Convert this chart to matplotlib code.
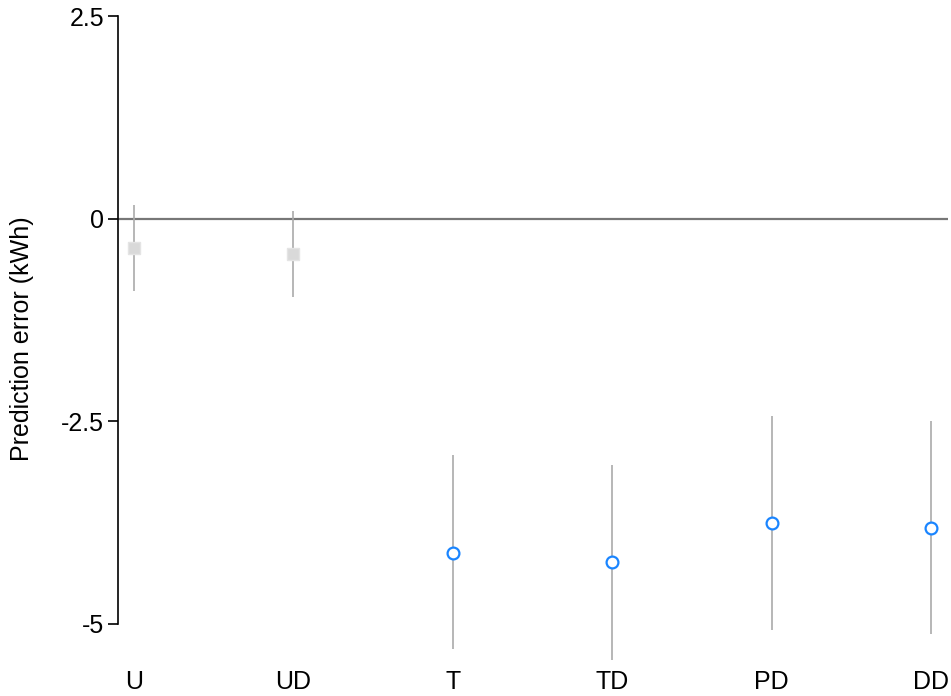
import matplotlib
matplotlib.use("Agg")
import matplotlib.pyplot as plt

categories = ["U", "UD", "T", "TD", "PD", "DD"]
means = [-0.36, -0.44, -4.12, -4.24, -3.75, -3.81]
lower = [-0.89, -0.97, -5.31, -5.44, -5.07, -5.12]
upper = [0.17, 0.09, -2.91, -3.04, -2.43, -2.49]
groups = ["base", "base", "model", "model", "model", "model"]
yticks = [2.5, 0, -2.5, -5]
ytick_labels = ["2.5", "0", "-2.5", "-5"]

plt.rcParams['font.family'] = ['Liberation Sans', 'DejaVu Sans']

fig = plt.figure(figsize=(9.51, 6.96), dpi=100)
W, H = 951, 696
ax_left, ax_right = 118, 948
ax_top, ax_bottom = 16, 664.5
ax = fig.add_axes([ax_left / W, 1 - ax_bottom / H, (ax_right - ax_left) / W, (ax_bottom - ax_top) / H])

ax.axhline(0, color="#777777", lw=1.6, zorder=1)

xs = list(range(len(categories)))
for x, m, lo, hi, g in zip(xs, means, lower, upper, groups):
    ax.plot([x, x], [lo, hi], color="#aaaaaa", lw=1.2, zorder=2, solid_capstyle="butt")
    if g == "base":
        ax.plot([x], [m], marker="s", ms=8.5, mfc="#d9d9d9", mec="#e4e4e4", mew=1.0, zorder=3)
    else:
        ax.plot([x], [m], marker="o", ms=8.5, mfc="white", mec="#1a85ff", mew=1.6, zorder=3)

ax.set_xlim(-0.1, 5.107)
ax.set_ylim(-5.5, 2.5)
for s in ["top", "right", "bottom"]:
    ax.spines[s].set_visible(False)
ax.spines["left"].set_bounds(-5, 2.5)
ax.spines["left"].set_linewidth(1.2)
ax.set_yticks(yticks)
ax.set_yticklabels(ytick_labels)
ax.tick_params(axis="y", length=7, width=1.2, pad=3, labelsize=18)
ax.set_xticks(xs)
ax.set_xticklabels(categories)
ax.tick_params(axis="x", length=0, pad=4, labelsize=18)

fig.text(22 / W, 1 - 338.5 / H, "Prediction error (kWh)", rotation=90,
         ha="center", va="center", fontsize=18)

fig.savefig("out.png", dpi=100)
